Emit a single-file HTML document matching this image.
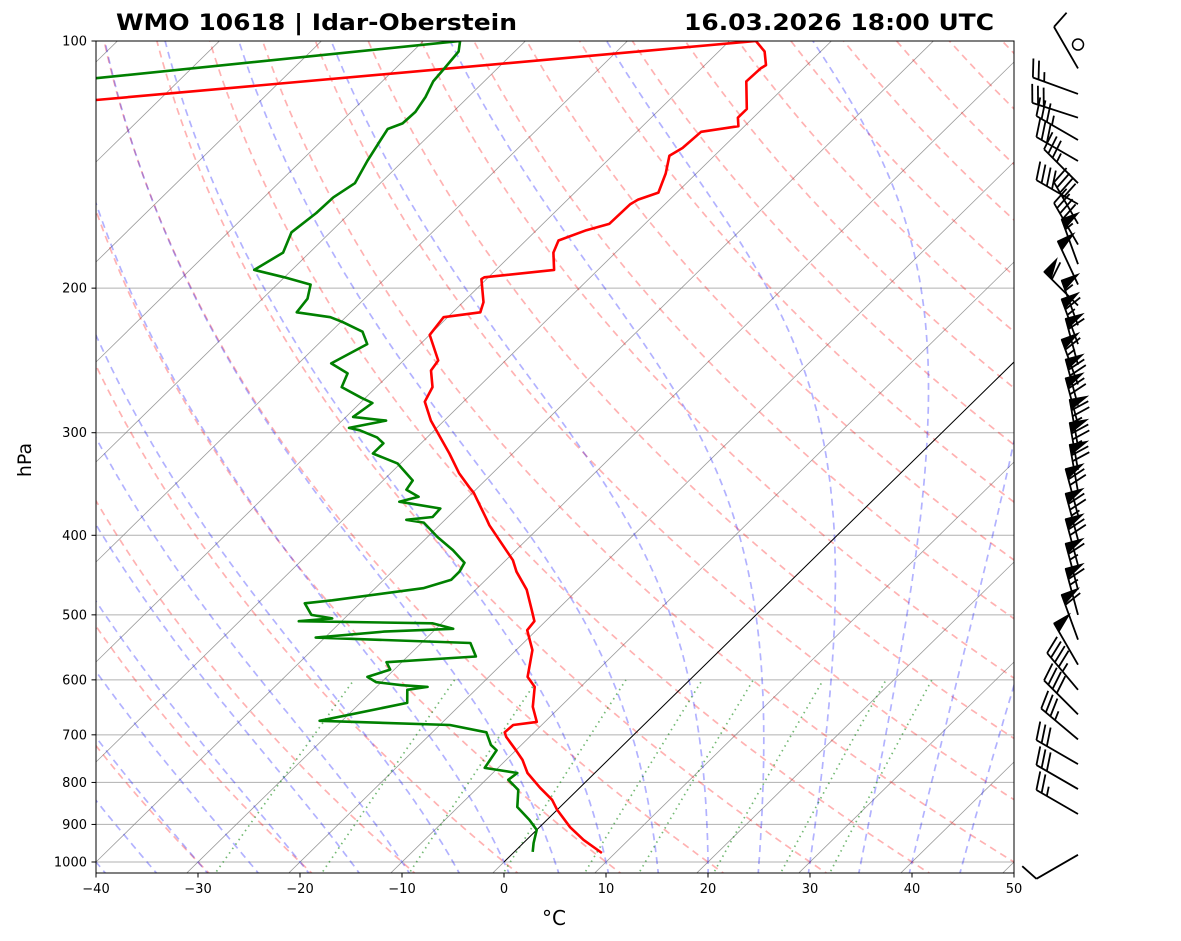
<!DOCTYPE html>
<html><head><meta charset="utf-8"><title>Skew-T WMO 10618</title>
<style>
html,body{margin:0;padding:0;background:#fff;}
svg{display:block;font-family:"DejaVu Sans","Liberation Sans",sans-serif;}
</style></head>
<body>
<svg id="chart" width="1181" height="941" viewBox="0 0 1181 941" xmlns="http://www.w3.org/2000/svg">
<defs><clipPath id="plotclip"><rect x="96" y="41" width="918" height="832"/></clipPath></defs>
<rect x="0" y="0" width="1181" height="941" fill="#fff"/>
<text x="116" y="30" font-size="22" font-weight="bold" fill="#000" textLength="401" lengthAdjust="spacingAndGlyphs">WMO 10618 | Idar-Oberstein</text>
<text x="684" y="30" font-size="22" font-weight="bold" fill="#000" textLength="310" lengthAdjust="spacingAndGlyphs">16.03.2026 18:00 UTC</text>
<g id="bg" clip-path="url(#plotclip)"></g>
<g id="data" clip-path="url(#plotclip)"></g>
<rect x="96" y="41" width="918" height="832" fill="none" stroke="#000" stroke-width="1"/>
<g id="axes"></g>
<g id="barbs"></g>
<text x="554" y="925" font-size="20" text-anchor="middle">°C</text>
<text x="0" y="0" font-size="19" text-anchor="middle" transform="translate(31,460) rotate(-90)">hPa</text>
</svg>
<script>
// ---- data ----
const tempP = [975,940,907,864,840,812,779,751,731,704,695,681,675,647,612,595,552,522,509,493,466,443,429,389,383,355,350,336,318,304,290,275,264,252,245,228,217,214,208,195,194,190,181,175,170,167,158,156,153,145,138,135,129,127,124,121,112,108,107,103,100,118];
const tempT = [8.7,5.6,3.0,0.0,-1.5,-3.9,-6.6,-8.4,-10.0,-12.3,-12.9,-12.8,-10.8,-12.7,-14.5,-16.2,-18.4,-20.9,-21.1,-22.5,-25.0,-27.8,-29.3,-35.1,-35.9,-39.9,-40.8,-43.3,-46.2,-48.7,-51.3,-53.8,-54.5,-56.3,-56.6,-60.0,-60.4,-57.3,-58.0,-60.5,-60.4,-54.3,-56.1,-56.8,-55.1,-53.5,-53.4,-53.1,-51.8,-53.0,-54.4,-53.9,-53.7,-50.6,-51.5,-51.5,-54.3,-54.2,-54.0,-55.5,-57.4,-116.2];
const dewP = [972,948,914,889,857,817,794,779,768,731,720,695,681,673,640,617,612,609,604,595,583,571,562,541,533,524,520,512,509,505,500,484,480,464,453,443,432,417,402,386,383,380,371,364,359,352,343,327,318,309,304,298,296,290,287,276,272,264,254,247,234,226,220,217,214,206,198,194,190,181,171,162,155,149,140,132,128,126,122,117,112,108,103,100,111];
const dewT = [1.8,1.0,0.0,-1.7,-4.2,-5.8,-7.8,-7.6,-11.3,-11.9,-13.0,-14.7,-19.0,-32.2,-25.4,-26.7,-25.0,-27.7,-30.5,-31.9,-30.4,-31.5,-23.3,-25.2,-40.9,-34.8,-28.3,-30.9,-44.2,-41.2,-43.6,-45.4,-43.0,-35.3,-33.4,-33.4,-33.8,-36.2,-39.0,-41.8,-43.8,-41.5,-41.6,-46.3,-44.9,-46.8,-47.1,-50.3,-53.7,-53.7,-54.9,-57.3,-58.6,-55.7,-59.3,-58.8,-60.4,-63.4,-64.2,-66.8,-65.2,-66.9,-69.8,-71.5,-75.3,-75.6,-76.7,-80.0,-83.7,-82.6,-83.8,-83.3,-83.2,-82.5,-83.5,-84.3,-84.7,-83.8,-83.7,-84.2,-85.0,-85.2,-85.5,-86.4,-118.4];
const barbP = [101,108,116,124,132,140,149,158,167,177,187,198,210,222,234,248,262,278,293,312,333,354,378,405,435,466,500,536,575,617,661,709,760,815,874,980];
const barbSpd = [0,10,25,30,35,30,35,40,40,45,55,50,60,55,65,60,65,70,70,75,75,70,70,75,70,65,65,60,50,45,40,35,30,30,25,10];
const barbDir = [0,330,290,288,300,300,315,300,330,330,340,335,315,340,340,345,340,345,345,350,350,350,345,345,345,345,345,340,330,320,315,310,300,300,300,240];
const xTicks = [-40,-30,-20,-10,0,10,20,30,40,50];
const yTicks = [100,200,300,400,500,600,700,800,900,1000];
const dryT0 = [-30,-20,-10,0,10,20,30,40,50,60,70,80,90,100,110,120,130,140,150,160,170,180,190];
const moistT0 = [-40,-35,-30,-25,-20,-15,-10,-5,0,5,10,15,20,25,30,35,40,45];
const mixW = [0.0004,0.001,0.002,0.004,0.007,0.01,0.016,0.024,0.032];

// ---- scales ----
const NS='http://www.w3.org/2000/svg';
const Y0=41, DEC=821, X0=96, PXC=10.2, SK=1.02, YREF=862;
function yP(p){return Y0+DEC*Math.log10(p/100);}
function xT(T,p){return X0+(T+40)*PXC+(YREF-yP(p))*SK;}
function mk(tag,attrs,parent){const e=document.createElementNS(NS,tag);for(const k in attrs)e.setAttribute(k,attrs[k]);parent.appendChild(e);return e;}
function pathOf(ps,ts){let d='';for(let i=0;i<ps.length;i++){d+=(i?'L':'M')+xT(ts[i],ps[i]).toFixed(1)+','+yP(ps[i]).toFixed(1);}return d;}
const bg=document.getElementById('bg'), dg=document.getElementById('data'), ax=document.getElementById('axes'), bb=document.getElementById('barbs');
const pLevels=[];for(let p=1040;p>=95;p-=5)pLevels.push(p);

// isobars
for(const p of yTicks){ if(p===100)continue;
  const l=mk('line',{x1:96,x2:1014,y1:yP(p),y2:yP(p),stroke:'#b0b0b0','stroke-width':1},bg);
  
  
}
// isotherms
for(let T=-200;T<=50;T+=10){
  const l=mk('line',{x1:xT(T,1040),y1:yP(1040),x2:xT(T,95),y2:yP(95),stroke:'#808080','stroke-width':0.8,'stroke-opacity':0.8},bg);
  
  
}
// dry adiabats
for(const t0 of dryT0){
  const th=t0+273.15; const ts=pLevels.map(p=>th*Math.pow(p/1000,0.2857)-273.15);
  const e=mk('path',{d:pathOf(pLevels,ts),fill:'none',stroke:'#ff0000','stroke-opacity':0.3,'stroke-width':1.7,'stroke-dasharray':'7,5'},bg);
  
  
}
// moist adiabats
function es(tc){return 6.112*Math.exp(17.67*tc/(tc+243.5));}
function dTdp(p,T){const Rd=287.04,Cp=1005.7,Lv=2.501e6,eps=0.622;const tc=T-273.15;const e=es(tc);const rs=eps*e/(p-e);
  return (1/p)*(Rd*T+Lv*rs)/(Cp+Lv*Lv*rs*eps/(Rd*T*T));}
for(const t0 of moistT0){
  const ps=[],ts=[];
  let Td=t0+273.15; for(let p=1000;p<1040;p+=1){Td+=dTdp(p,Td)*1;}
  let Tc=Td; for(let p=1040;p>=95;p-=1){ if(p%5===0){ps.push(p);ts.push(Tc-273.15);} Tc-=dTdp(p,Tc)*1;}
  const e=mk('path',{d:pathOf(ps,ts),fill:'none',stroke:'#0000ff','stroke-opacity':0.3,'stroke-width':1.7,'stroke-dasharray':'7,5'},bg);
  
  
}
// mixing ratio lines
for(const w of mixW){
  const ps=[],ts=[];
  for(let p=1040;p>=600;p-=10){const e=w*p/(0.622+w);const L=Math.log(e/6.112);ps.push(p);ts.push(243.5*L/(17.67-L));}
  const e=mk('path',{d:pathOf(ps,ts),fill:'none',stroke:'#008000','stroke-opacity':0.55,'stroke-width':1.7,'stroke-dasharray':'1.5,4'},bg);
  
  
}
// 0 degC reference line from 1000 hPa
const zl=mk('line',{x1:xT(0,1000),y1:yP(1000),x2:xT(0,95),y2:yP(95),stroke:'#000','stroke-width':1},bg);



// profiles
const tl=mk('path',{d:pathOf(tempP,tempT),fill:'none',stroke:'#ff0000','stroke-width':2.6,'stroke-linejoin':'round'},dg);


const dl=mk('path',{d:pathOf(dewP,dewT),fill:'none',stroke:'#008000','stroke-width':2.6,'stroke-linejoin':'round'},dg);



// axes ticks
for(const t of xTicks){
  const x=X0+(t+40)*PXC;
  const tk=mk('line',{x1:x,x2:x,y1:873,y2:877.5,stroke:'#000','stroke-width':1},ax);
  
  
  const lb=mk('text',{x:x,y:893,'font-size':13,'text-anchor':'middle'},ax);
  lb.textContent=(t<0?'\u2212'+(-t):String(t));
  
  
}
for(const p of yTicks){
  const y=yP(p);
  const tk=mk('line',{x1:91.5,x2:96,y1:y,y2:y,stroke:'#000','stroke-width':1},ax);
  
  
  const lb=mk('text',{x:87,y:y+4.5,'font-size':13,'text-anchor':'end'},ax);
  lb.textContent=String(p);
  
  
}

// wind barbs
const BX=1078, L=48, FH=18, FL=6, SP=6;
for(let i=0;i<barbP.length;i++){
  const y=yP(barbP[i]), spd=barbSpd[i], d=barbDir[i]*Math.PI/180;
  if(spd<2.5){
    const c=mk('circle',{cx:BX,cy:y,r:5.5,fill:'none',stroke:'#000','stroke-width':1.5},bb);
    
    
    continue;
  }
  const sx=Math.sin(d), sy=-Math.cos(d); const px=-sy, py=sx;
  const tx=BX+sx*L, ty=y+sy*L;
  const g=mk('g',{},bb);
  
  
  mk('line',{x1:BX,y1:y,x2:tx,y2:ty,stroke:'#000','stroke-width':1.8},g);
  let r=Math.round(spd/5)*5; let pos=0;
  while(r>=50){
    const ax1=tx-sx*pos, ay1=ty-sy*pos, ax2=tx-sx*(pos+10), ay2=ty-sy*(pos+10);
    const fx=ax1+px*FH, fy=ay1+py*FH;
    mk('polygon',{points:ax1+','+ay1+' '+fx+','+fy+' '+ax2+','+ay2,fill:'#000',stroke:'#000','stroke-width':1},g);
    pos+=11; r-=50;
  }
  while(r>=10){
    const ax1=tx-sx*pos, ay1=ty-sy*pos;
    mk('line',{x1:ax1,y1:ay1,x2:ax1+px*FH+sx*FL,y2:ay1+py*FH+sy*FL,stroke:'#000','stroke-width':1.8},g);
    pos+=SP; r-=10;
  }
  if(r>=5){
    if(pos===0)pos=SP;
    const ax1=tx-sx*pos, ay1=ty-sy*pos;
    mk('line',{x1:ax1,y1:ay1,x2:ax1+px*FH/2+sx*FL/2,y2:ay1+py*FH/2+sy*FL/2,stroke:'#000','stroke-width':1.8},g);
  }
}
</script>
</body></html>
